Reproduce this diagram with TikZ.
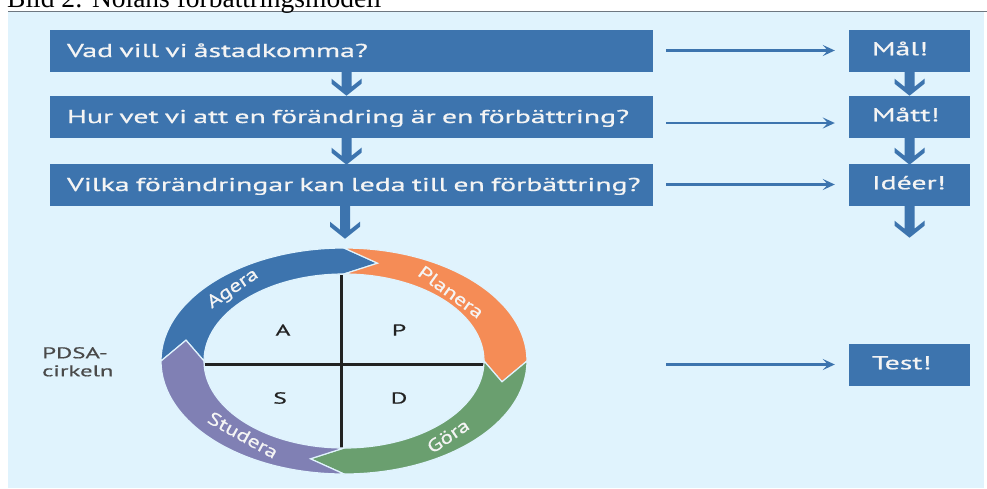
\documentclass[tikz,border=0pt]{standalone}
\usepackage{fontspec}
\setmainfont{Liberation Serif}
\newfontfamily\diafont[FakeStretch=1.6,FakeBold=0.6]{PT Sans}
\newfontfamily\ringfont[FakeStretch=1.3,FakeBold=0.6]{PT Sans}
\usetikzlibrary{arrows.meta}
\definecolor{bgblue}{HTML}{E0F3FD}
\definecolor{boxblue}{HTML}{3D74AE}
\definecolor{orangeP}{HTML}{F58C56}
\definecolor{greenD}{HTML}{6A9F6F}
\definecolor{purpleS}{HTML}{8080B4}
\definecolor{txtwhite}{HTML}{F4F4F4}
\definecolor{darktxt}{HTML}{222222}
\definecolor{greytxt}{HTML}{4A4A4A}
\definecolor{rulegrey}{HTML}{6E7780}
\newcommand\ringseg[3]{%
  \fill[#3, draw=bgblue, line width=1.2pt]
    (#1:183 and 113) arc[start angle=#1, end angle=#2, x radius=183, y radius=113]
    -- (#2-12:161.5 and 100) -- (#2:140 and 87)
    arc[start angle=#2, end angle=#1, x radius=140, y radius=87]
    -- (#1-12:161.5 and 100) -- cycle;}
\tikzset{
  qbox/.style={fill=boxblue, text=txtwhite, font=\diafont\fontsize{18.6}{20}\selectfont,
    minimum width=603pt, minimum height=42pt, text width=569pt, align=left,
    inner xsep=17pt, inner ysep=0pt, text height=13pt, text depth=0pt},
  abox/.style={fill=boxblue, text=txtwhite, font=\diafont\fontsize{18.6}{20}\selectfont,
    minimum width=121pt, minimum height=42pt, text width=75pt, align=left,
    inner xsep=23pt, inner ysep=0pt, text height=13pt, text depth=3.5pt},
  harrow/.style={draw=boxblue, line width=2.6pt, shorten <=13pt, shorten >=14pt,
    -{Stealth[length=12pt,width=11pt,inset=5pt]}},
  dnarr/.pic={\fill[boxblue] (-5,-1) -- (-5,#1-9) -- (-15,#1-17) -- (-15,#1-12) -- (0,#1)
      -- (15,#1-12) -- (15,#1-17) -- (5,#1-9) -- (5,-1) -- cycle;},
  quad/.style={text=darktxt, font=\diafont\fontsize{16}{18}\selectfont, inner sep=0pt},
  seglabel/.style={text=txtwhite, font=\ringfont\fontsize{18}{20}\selectfont, inner sep=0pt}
}
\begin{document}
\begin{tikzpicture}[x=1pt,y=-1pt]
\useasboundingbox (0,0) rectangle (987,488);
\fill[white] (0,0) rectangle (987,488);
\fill[bgblue] (8,11) rectangle (984,488);
\draw[rulegrey, line width=1pt] (8,11) -- (987,11);
\node[anchor=base west, inner sep=0pt, font=\fontsize{27.5}{30}\selectfont] (title) at (7,7.5) {Bild 2: Nolans förbättringsmodell};

% question boxes
\node[qbox] (q1) at (351.5,50.5) {\mbox{Vad vill vi åstadkomma?}};
\node[qbox] (q2) at (351.5,116.5) {\mbox{Hur vet vi att en förändring är en förbättring?}};
\node[qbox] (q3) at (351.5,184.5) {\mbox{Vilka förändringar kan leda till en förbättring?}};
% answer boxes
\node[abox] (m1) at (909.5,50.5) {Mål!};
\node[abox] (m2) at (909.5,116.5) {Mått!};
\node[abox] (m3) at (909.5,184.5) {Idéer!};
\node[abox] (tb) at (909.5,364.5) {Test!};

% down arrows
\pic at ([xshift=-5pt]q1.south) {dnarr=24};
\pic at ([xshift=-5pt]q2.south) {dnarr=27};
\pic at ([xshift=-6.5pt]q3.south) {dnarr=33};
\pic at (m1.south) {dnarr=24};
\pic at (m2.south) {dnarr=27};
\pic at (m3.south) {dnarr=32};

% horizontal arrows
\draw[harrow] (q1.east) -- (m1.west);
\draw[harrow] ([yshift=-6.5pt]q2.east) -- ([yshift=-6.5pt]m2.west);
\draw[harrow] (q3.east) -- (m3.west);
\coordinate (ts) at (653,364.5);
\draw[harrow] (ts) -- (tb.west);

% PDSA cross
\draw[darktxt, line width=3pt] (341,275) -- (341,452);
\draw[darktxt, line width=3pt] (205,364) -- (489,364);

% ring
\begin{scope}[shift={(344,361)}, yscale=-1]
  \ringseg{180}{90}{boxblue}
  \ringseg{90}{0}{orangeP}
  \ringseg{0}{-90}{greenD}
  \ringseg{270}{180}{purpleS}
\end{scope}

\node[seglabel, rotate=34] (agera) at (233,289) {Agera};
\node[seglabel, rotate=-36] (planera) at (451,292) {Planera};
\node[seglabel, rotate=34] (gora) at (448,436) {Göra};
\node[seglabel, rotate=-29] (studera) at (243,435) {Studera};

\node[quad] (qa) at (283,330) {A};
\node[quad] (qp) at (399,330) {P};
\node[quad] (qs) at (280,398) {S};
\node[quad] (qd) at (399,398) {D};

\node[anchor=north west, align=left, inner sep=0pt, text=greytxt,
  font=\diafont\fontsize{15.5}{18}\selectfont] (pdsa) at (42,347) {PDSA-\\cirkeln};
\end{tikzpicture}
\end{document}
